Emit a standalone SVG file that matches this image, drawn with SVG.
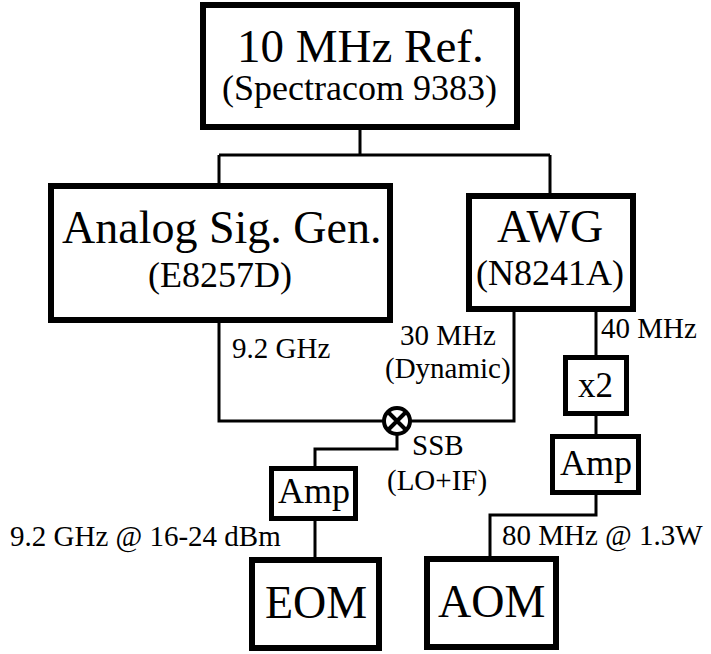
<svg xmlns="http://www.w3.org/2000/svg" width="711" height="654" viewBox="0 0 711 654">
<style>
.box{fill:#fff;stroke:#000;stroke-width:6}
.sbox{fill:#fff;stroke:#000;stroke-width:5}
.wire{fill:none;stroke:#000;stroke-width:3}
.big{font-size:47px}
.mid{font-size:36px}
.lab{font-size:29px}
</style>
<rect width="711" height="654" fill="#fff"/>
<g id="connectors">
<path class="wire" d="M360 130 V155 M219 155 H550 M219 155 V183 M550 155 V193"/>
<path class="wire" d="M219 323 V421 H384 M410 421 H514 V312"/>
<path class="wire" d="M596 312 V355 M596 416 V434 M596 495 V515 H490 V556"/>
<path class="wire" d="M397 434 V449 H315 V466 M315 521 V557"/>
</g>
<g font-family="Liberation Serif, Tinos, DejaVu Serif, serif" fill="#000">
<g id="ref">
<rect class="box" x="203" y="5" width="314" height="122"/>
<text class="big" x="237" y="62">10 MHz Ref.</text>
<text class="mid" x="222" y="100">(Spectracom 9383)</text>
</g>
<g id="analog">
<rect class="box" x="51" y="186" width="339" height="134"/>
<text font-size="46" x="62" y="243">Analog Sig. Gen.</text>
<text class="mid" x="148" y="287">(E8257D)</text>
</g>
<g id="awg">
<rect class="box" x="469" y="196" width="164" height="113"/>
<text font-size="46" x="497" y="242">AWG</text>
<text class="mid" x="476" y="285">(N8241A)</text>
</g>
<g id="mixer">
<circle cx="397" cy="421" r="13" fill="#fff" stroke="#000" stroke-width="4"/>
<path d="M388 412 L406 430 M406 412 L388 430" stroke="#000" stroke-width="4"/>
</g>
<g id="x2">
<rect class="sbox" x="565.5" y="357.5" width="61" height="56"/>
<text font-size="35" x="578" y="397">x2</text>
</g>
<g id="amp-right">
<rect class="sbox" x="552.5" y="436.5" width="86" height="56"/>
<text class="mid" x="560" y="475">Amp</text>
</g>
<g id="amp-left">
<rect class="sbox" x="271.5" y="468.5" width="84" height="50"/>
<text class="mid" x="278" y="503">Amp</text>
</g>
<g id="eom">
<rect class="box" x="252" y="560" width="127" height="88"/>
<text font-size="46" x="265" y="618">EOM</text>
</g>
<g id="aom">
<rect class="box" x="427" y="559" width="129" height="88"/>
<text font-size="46" x="438" y="617">AOM</text>
</g>
<g id="labels">
<text class="lab" x="232" y="358">9.2 GHz</text>
<text class="lab" x="400" y="345">30 MHz</text>
<text class="lab" x="385" y="378">(Dynamic)</text>
<text class="lab" x="601" y="338">40 MHz</text>
<text class="lab" x="412" y="455">SSB</text>
<text class="lab" x="387" y="490">(LO+IF)</text>
<text class="lab" x="10" y="546">9.2 GHz @ 16-24 dBm</text>
<text class="lab" x="502" y="545">80 MHz @ 1.3W</text>
</g>
</g>
</svg>
